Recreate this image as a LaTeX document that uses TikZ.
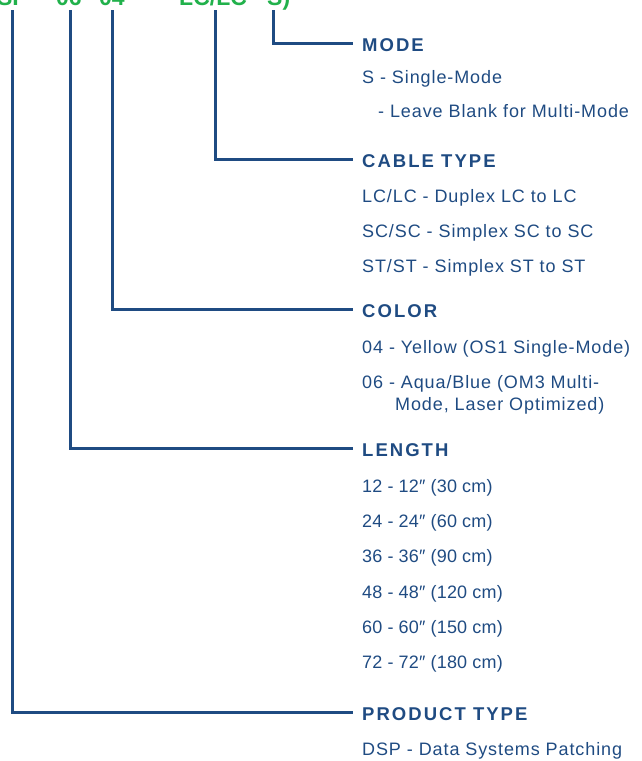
\documentclass[tikz,border=0pt]{standalone}
\usepackage{fontspec}
\setmainfont{Liberation Sans}
\newfontfamily\bodyfont[LetterSpace=5]{Liberation Sans}
\newfontfamily\numfont[LetterSpace=1]{Liberation Sans}
\newfontfamily\headfont[LetterSpace=11]{Liberation Sans}
\definecolor{partblue}{HTML}{1F4B82}
\definecolor{partgreen}{HTML}{21B14B}

\begin{document}
\begin{tikzpicture}[x=1pt,y=-1pt,
  head/.style={anchor=base west, inner sep=0pt, text height=16pt, text depth=0pt,
    font=\headfont\bfseries\fontsize{18.5}{18}\selectfont, text=partblue},
  item/.style={anchor=base west, inner sep=0pt,
    font=\bodyfont\fontsize{18}{18}\selectfont, text=partblue},
  num/.style={item, font=\numfont\fontsize{18}{18}\selectfont},
  code/.style={anchor=base west, inner sep=0pt,
    font=\bfseries\fontsize{23}{23}\selectfont, text=partgreen},
  lead/.style={draw=partblue, line width=3pt, shorten >=9pt}]
\useasboundingbox (0,0) rectangle (642,761);
\clip (0,0) rectangle (642,761);

\node[code, anchor=base east] (p) at (28,5) {DSP};
\node[code] (q) at (56,5) {06};
\node[code] (r) at (99,5) {04};
\node[code] (s) at (179,5) {LC/LC};
\node[code] (t) at (267,5) {S)};

\node[head] (a) at (362,51) {MODE};
\node[item] (a1) at (362,83) {S - Single-Mode};
\node[item] (a2) at (378,117) {- Leave Blank for Multi-Mode};

\node[head] (b) at (362,167) {CABLE TYPE};
\node[item] (b1) at (362,202) {LC/LC - Duplex LC to LC};
\node[item] (b2) at (362,237) {SC/SC - Simplex SC to SC};
\node[item] (b3) at (362,272) {ST/ST - Simplex ST to ST};

\node[head] (c) at (362,317) {COLOR};
\node[item] (c1) at (362,353) {04 - Yellow (OS1 Single-Mode)};
\node[item] (c2) at (362,388) {06 - Aqua/Blue (OM3 Multi-};
\node[item] (c3) at (395,410) {Mode, Laser Optimized)};

\node[head] (d) at (362,456) {LENGTH};
\node[num] (d1) at (362,492) {12 - 12″ (30 cm)};
\node[num] (d2) at (362,527) {24 - 24″ (60 cm)};
\node[num] (d3) at (362,562) {36 - 36″ (90 cm)};
\node[num] (d4) at (362,598) {48 - 48″ (120 cm)};
\node[num] (d5) at (362,633) {60 - 60″ (150 cm)};
\node[num] (d6) at (362,668) {72 - 72″ (180 cm)};

\node[head] (e) at (362,720) {PRODUCT TYPE};
\node[item] (e1) at (362,755) {DSP - Data Systems Patching};

\coordinate (tm) at (273,10);
\coordinate (sm) at (215,10);
\coordinate (rm) at (112,10);
\coordinate (qm) at (70,10);
\coordinate (pm) at (12,10);

\draw[lead] (tm) |- (a);
\draw[lead] (sm) |- (b);
\draw[lead] (rm) |- (c);
\draw[lead] (qm) |- (d);
\draw[lead] (pm) |- (e);
\end{tikzpicture}
\end{document}
